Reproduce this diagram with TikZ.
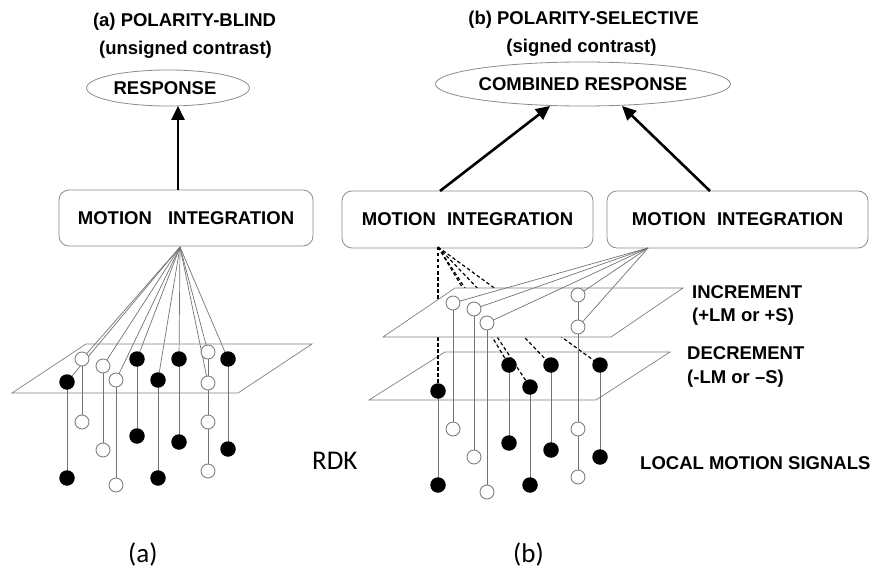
\documentclass[tikz,border=0pt]{standalone}
\usepackage{fontspec}
\setmainfont{Liberation Sans}
\newfontfamily\calib{Carlito}
\usetikzlibrary{shapes.geometric,arrows.meta}
\newcommand\bff{\fontsize{18.5}{22}\selectfont\bfseries}
\begin{document}
\begin{tikzpicture}[x=1pt,y=-1pt,
  lbl/.style={font=\bff, inner sep=0pt},
  cal/.style={font=\calib\fontsize{27}{30}\selectfont, inner sep=0pt},
  mbox/.style={draw=black!45, line width=0.8pt, rounded corners=10pt, minimum height=56pt, inner sep=0pt, font=\bff},
  resp/.style={ellipse, draw=black!45, line width=0.8pt, inner sep=0pt, font=\bff},
  plane/.style={draw=black!50, line width=0.7pt},
  wire/.style={draw=black!55, line width=0.7pt},
  dwire/.style={draw=black, dash pattern=on 3.5pt off 2.5pt, line width=1.2pt},
  odot/.style={circle, draw=black!50, line width=0.9pt, fill=white, inner sep=0pt, minimum size=14pt},
  fdot/.style={circle, fill=black, inner sep=0pt, minimum size=15.5pt},
  arr/.style={line width=2.6pt, -{Triangle[length=14pt,width=13pt]}}
]
\useasboundingbox (0,0) rectangle (873,572);

% ---------- titles ----------
\node[lbl, anchor=base] (ta1) at (184.5,26.7) {(a) POLARITY-BLIND};
\node[lbl, anchor=base] (ta2) at (185.5,54.3) {(unsigned contrast)};
\node[lbl, anchor=base] (tb1) at (583.5,25) {(b) POLARITY-SELECTIVE};
\node[lbl, anchor=base] (tb2) at (581.5,52.7) {(signed contrast)};

% ---------- responses ----------
\node[resp, minimum width=163pt, minimum height=36pt] (ra) at (168,88) {\hspace{-6pt}RESPONSE};
\node[resp, minimum width=292pt, minimum height=44pt] (rb) at (583,84) {COMBINED RESPONSE};

% ---------- integration boxes ----------
\node[mbox, minimum width=254pt] (ma) at (186,218) {MOTION\hspace{11pt} INTEGRATION\hspace{19pt}};
\node[mbox, minimum width=251pt, minimum height=57pt] (mb) at (467.5,219.5) {MOTION\hspace{6pt} INTEGRATION\hspace{8pt}};
\node[mbox, minimum width=261pt, minimum height=57pt] (mc) at (737.5,219.5) {MOTION\hspace{6pt} INTEGRATION\hspace{4pt}};

% ---------- arrows ----------
\coordinate (sa) at (178,190);
\coordinate (ea) at (178,106);
\coordinate (sb) at (440,191);
\coordinate (eb) at (550,106);
\coordinate (sc) at (710,191);
\coordinate (ec) at (622,106);
\draw[arr] (sa) -- (ea);
\draw[arr] (sb) -- (eb);
\draw[arr] (sc) -- (ec);

% ---------- panel (a) ----------
\coordinate (fa) at (180,247);
\foreach \n/\x/\y in {a1/82/359,a2/103/366,a3/116/380,a4/208/352,a5/208/383,
                      a6/67/382,a7/137/359,a8/158/380,a9/179/359,a10/228/359,
                      l1/82/422,l2/103/450,l3/116/485,l4/208/422,l5/208/471,
                      l6/67/478,l7/137/436,l8/158/478,l9/179/442,l10/228/449}
  \coordinate (\n) at (\x,\y);
\draw[plane] (12,393) -- (238,393) -- (312,344) -- (86,344) -- cycle;
\foreach \n in {a1,a2,a3,a4,a5,a6,a7,a8,a9,a10}
  \draw[wire] (fa) -- (\n);
\foreach \p/\q in {a1/l1,a2/l2,a3/l3,a4/l5,a6/l6,a7/l7,a8/l8,a9/l9,a10/l10}
  \draw[wire] (\p) -- (\q);
\foreach \n in {a1,a2,a3,a4,a5,l1,l2,l3,l4,l5}
  \node[odot] at (\n) {};
\foreach \n in {a6,a7,a8,a9,a10,l6,l7,l8,l9,l10}
  \node[fdot] at (\n) {};

% ---------- panel (b) ----------
\coordinate (fb) at (438,247);
\coordinate (fc) at (648,248);
\foreach \n/\x/\y in {u1/453/303,u2/474/309,u3/487/323,u4/578/295,u5/578/327,
                      v1/453/429,v2/474/457,v3/487/492,v4/578/429,v5/578/477,
                      d1/438/391,d2/509/365,d3/530/387,d4/551/365,d5/600/365,
                      e1/438/485,e2/509/443,e3/530/485,e4/551/450,e5/600/457}
  \coordinate (\n) at (\x,\y);
% lower plane (decrement)
\draw[plane] (369,400) -- (596,400) -- (670,352) -- (445,352) -- cycle;
\foreach \p/\q in {d1/e1,d2/e2,d3/e3,d4/e4,d5/e5}
  \draw[wire] (\p) -- (\q);
\foreach \n in {d1,d2,d3,d4,d5}
  \draw[dwire] (fb) -- (\n);
% upper plane (increment), opaque
\draw[plane, fill=white] (383,337) -- (611,337) -- (683,288) -- (455,288) -- cycle;
\foreach \n in {u1,u2,u3,u4,u5}
  \draw[wire] (fc) -- (\n);
\foreach \p/\q in {u1/v1,u2/v2,u3/v3,u4/v5}
  \draw[wire] (\p) -- (\q);
\foreach \n in {u1,u2,u3,u4,u5,v1,v2,v3,v4,v5}
  \node[odot] at (\n) {};
\foreach \n in {d1,d2,d3,d4,d5,e1,e2,e3,e4,e5}
  \node[fdot] at (\n) {};

% ---------- side labels ----------
\node[lbl, anchor=base west] (inc) at (692,298.3) {INCREMENT};
\node[lbl, anchor=base west] (incs) at (692,321.7) {(+LM or +S)};
\node[lbl, anchor=base west] (dec) at (687,359.3) {DECREMENT};
\node[lbl, anchor=base west] (decs) at (687,383.3) {(-LM or –S)};
\node[lbl, anchor=base west] (lms) at (640,469.3) {LOCAL MOTION SIGNALS};
\node[cal, anchor=base west] (rdk) at (312,469.3) {RDK};
\node[cal, anchor=base west] (capa) at (128,562.7) {(a)};
\node[cal, anchor=base west] (capb) at (513,562) {(b)};
\end{tikzpicture}
\end{document}
